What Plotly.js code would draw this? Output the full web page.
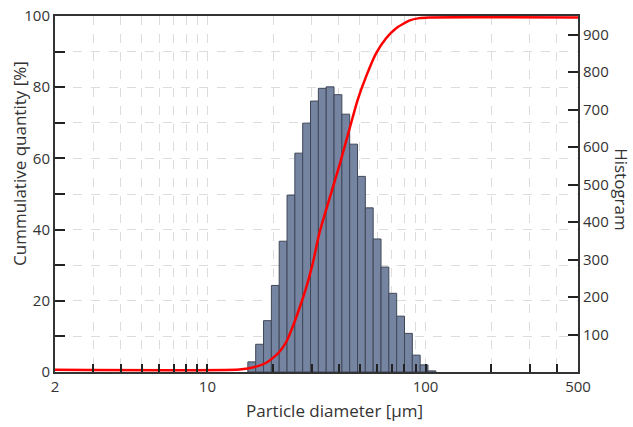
<!DOCTYPE html>
<html>
<head>
<meta charset="utf-8">
<script src="https://cdn.plot.ly/plotly-3.0.1.min.js"></script>
<style>html,body{margin:0;padding:0;background:#fff;}#chart{width:633px;height:427px;}</style>
</head>
<body>
<div id="chart"></div>
<script>
// Histogram bin edges (µm) and counts
const binEdges = [15.32, 16.64, 18.08, 19.64, 21.33, 23.17, 25.16, 27.33, 29.69, 32.25, 35.03, 38.05, 41.33, 44.89, 48.76, 52.96, 57.53, 62.49, 67.87, 73.72, 80.08, 86.98, 94.48, 102.6, 111.5];
const counts = [27, 74, 137, 231, 349, 472, 584, 664, 723, 757, 761, 740, 688, 608, 522, 438, 355, 280, 210, 149, 103, 45, 19, 3];

// Cumulative curve (µm, %)
const cumX = [2, 14, 16.7, 18.6, 19.9, 21.4, 23.0, 24.6, 26.4, 28.3, 30.4, 32.6, 40.3, 48.8, 53.3, 59.3, 65.8, 73.1, 84.1, 93.5, 104, 500];
const cumY = [0.6, 0.7, 1.5, 2.6, 3.9, 5.7, 8.5, 12.7, 17.9, 23.5, 30.5, 39.0, 58.1, 76.4, 82.9, 89.5, 93.7, 96.5, 98.7, 99.4, 99.6, 99.6];

// Axis ticks
const xTickVals = [2,3,4,5,6,7,8,9,10,20,30,40,50,60,70,80,90,100,200,300,400,500];
const xTickText = ['2','','','','','','','','10','','','','','','','','','100','','','','500'];
const yTickVals = [0,10,20,30,40,50,60,70,80,90,100];
const yTickText = ['0','','20','','40','','60','','80','','100'];
const y2TickVals = [100,200,300,400,500,600,700,800,900];

const barLeft = binEdges.slice(0, -1);
const barWidth = barLeft.map((v, i) => binEdges[i + 1] - v);

const FONT = 'Open Sans, Noto Sans, sans-serif';
const TXT = '#333';

const traces = [
  {
    type: 'bar', x: barLeft, y: counts, width: barWidth, offset: barLeft.map(() => 0),
    yaxis: 'y',
    marker: {color: '#7484a1', line: {color: '#404858', width: 1}},
    hoverinfo: 'x+y'
  },
  {
    type: 'scatter', mode: 'lines', x: cumX, y: cumY, yaxis: 'y2',
    line: {color: '#ff0000', width: 2.5, shape: 'spline', smoothing: 0.5}
  }
];

const layout = {
  width: 633, height: 427,
  margin: {l: 55, r: 55, t: 16, b: 55},
  paper_bgcolor: '#fff', plot_bgcolor: '#fff',
  showlegend: false,
  font: {family: FONT, color: TXT, size: 15},
  bargap: 0,
  xaxis: {
    type: 'log', range: [Math.log10(2), Math.log10(500)],
    tickmode: 'array', tickvals: xTickVals, ticktext: xTickText,
    ticks: 'inside', ticklen: 8, tickwidth: 2, tickcolor: '#222',
    showline: true, linecolor: '#333', linewidth: 2, mirror: true,
    showgrid: true, gridcolor: '#dcdcdc', griddash: 'dash', gridwidth: 1,
    zeroline: false,
    tickfont: {size: 15, color: TXT}
  },
  // histogram axis (right)
  yaxis: {
    side: 'right', range: [0, 950],
    tickmode: 'array', tickvals: y2TickVals,
    ticks: 'inside', ticklen: 10, tickwidth: 2, tickcolor: '#222',
    showline: true, linecolor: '#333', linewidth: 2,
    showgrid: false, zeroline: false,
    tickfont: {size: 15, color: TXT}
  },
  // cumulative axis (left)
  yaxis2: {
    overlaying: 'y', side: 'left', range: [0, 100],
    tickmode: 'array', tickvals: yTickVals, ticktext: yTickText,
    ticks: 'inside', ticklen: 10, tickwidth: 2, tickcolor: '#222',
    showline: true, linecolor: '#333', linewidth: 2,
    showgrid: true, gridcolor: '#dcdcdc', griddash: 'dash', gridwidth: 1,
    zeroline: false,
    tickfont: {size: 15, color: TXT}
  },
  annotations: [
    {
      text: 'Particle diameter [µm]', xref: 'paper', yref: 'paper',
      x: 0.535, y: -0.107, xanchor: 'center', yanchor: 'middle', showarrow: false,
      font: {size: 17, color: TXT}
    },
    {
      text: 'Cummulative quantity [%]', textangle: -90, xref: 'paper', yref: 'paper',
      x: -0.069, y: 0.587, xanchor: 'center', yanchor: 'middle', showarrow: false,
      font: {size: 17, color: TXT}
    },
    {
      text: 'Histogram', textangle: 90, xref: 'paper', yref: 'paper',
      x: 1.084, y: 0.511, xanchor: 'center', yanchor: 'middle', showarrow: false,
      font: {size: 17, color: TXT}
    }
  ]
};

Plotly.newPlot('chart', traces, layout, {displayModeBar: false, staticPlot: true});
</script>
</body>
</html>
